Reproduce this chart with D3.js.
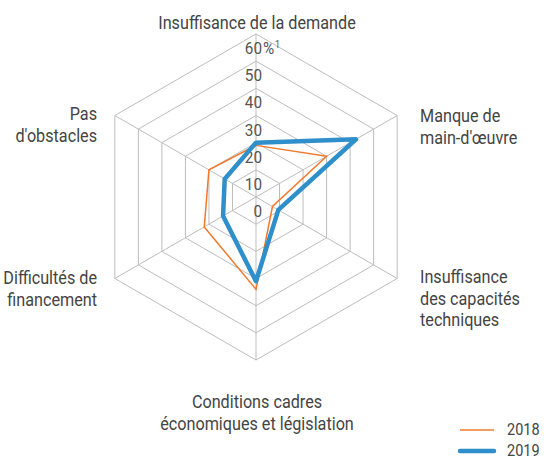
<!DOCTYPE html>
<html>
<head>
<meta charset="utf-8">
<script src="https://cdn.jsdelivr.net/npm/d3@7"></script>
<style>
  body { margin: 0; background: #fff; }
  text { font-family: "Roboto", sans-serif; }
</style>
</head>
<body>
<svg width="546" height="460"></svg>
<script>
// data
const axes = [
  ["Insuffisance de la demande"],
  ["Manque de", "main-d'œuvre"],
  ["Insuffisance", "des capacités", "techniques"],
  ["Conditions cadres", "économiques et législation"],
  ["Difficultés de", "financement"],
  ["Pas", "d'obstacles"]
];
const years = ["2018", "2019"];
const v2018 = [19, 30, 7, 34, 22, 20];
const v2019 = [20, 42.5, 9.5, 31, 14, 13.3];
const ticks = [0, 10, 20, 30, 40, 50, 60];

const svg = d3.select("svg");
const cx = 256, cy = 197;
const sx = 0.9; // narrow the font horizontally
const r = d3.scaleLinear().domain([0, 60]).range([0, 163]);
const angle = d3.scaleLinear().domain([0, axes.length]).range([0, 2 * Math.PI]);

const g = svg.append("g").attr("transform", `translate(${cx},${cy})`);

// grid rings
const ring = d3.lineRadial().angle((d, i) => angle(i)).radius(d => r(d)).curve(d3.curveLinearClosed);
g.selectAll(".ring").data(ticks.slice(1)).enter().append("path")
  .attr("d", t => ring(axes.map(() => t)))
  .attr("fill", "none").attr("stroke", "#bdbdbd").attr("stroke-width", 1);

// spokes
g.selectAll(".spoke").data(axes).enter().append("line")
  .attr("x1", 0).attr("y1", 0)
  .attr("x2", (d, i) => r(60) * Math.sin(angle(i)))
  .attr("y2", (d, i) => -r(60) * Math.cos(angle(i)))
  .attr("stroke", "#bdbdbd").attr("stroke-width", 1);

// tick labels
g.selectAll(".tick").data(ticks).enter().append("text")
  .attr("transform", t => `translate(6,${-r(t) + 20}) scale(${sx},1)`)
  .attr("text-anchor", "end")
  .attr("font-size", 17).attr("fill", "#555")
  .text(t => t);
const pct = g.append("text").attr("transform", `translate(7,${-r(60) + 20}) scale(${sx},1)`)
  .attr("font-size", 17).attr("fill", "#555");
pct.append("tspan").text("%");
pct.append("tspan").attr("font-size", 10).attr("dy", -6).attr("dx", 1).text("1");

// series
const line = d3.lineRadial().angle((d, i) => angle(i)).radius(d => r(d)).curve(d3.curveLinearClosed);
g.append("path").attr("d", line(v2018))
  .attr("fill", "none").attr("stroke", "#f07a2e").attr("stroke-width", 1.5);
g.append("path").attr("d", line(v2019))
  .attr("fill", "none").attr("stroke", "#2f8fcb").attr("stroke-width", 4.5)
  .attr("stroke-linejoin", "round");

// category labels
const labelPos = [
  {x: 257, y: 29, anchor: "middle"},
  {x: 420, y: 122, anchor: "start"},
  {x: 420, y: 283, anchor: "start"},
  {x: 257, y: 408, anchor: "middle"},
  {x: 97, y: 284, anchor: "end"},
  {x: 97, y: 120, anchor: "end"}
];
axes.forEach((lines, i) => {
  const t = svg.append("text")
    .attr("transform", `translate(${labelPos[i].x},${labelPos[i].y}) scale(${sx},1)`)
    .attr("text-anchor", labelPos[i].anchor)
    .attr("font-size", 18).attr("fill", "#444");
  lines.forEach((s, j) => {
    t.append("tspan").attr("x", 0).attr("y", j * 21.7).text(s);
  });
});

// legend
const legend = svg.append("g").attr("transform", "translate(460,430)");
years.forEach((y, i) => {
  legend.append("line").attr("x1", 0).attr("x2", 34).attr("y1", i * 21).attr("y2", i * 21)
    .attr("stroke", i ? "#2f8fcb" : "#f07a2e").attr("stroke-width", i ? 4.5 : 1.5)
    .attr("stroke-linecap", i ? "round" : "butt");
  legend.append("text").attr("transform", `translate(47,${i * 21 + 5}) scale(0.88,1)`)
    .attr("font-size", 16.5).attr("fill", "#444").text(y);
});
</script>
</body>
</html>
